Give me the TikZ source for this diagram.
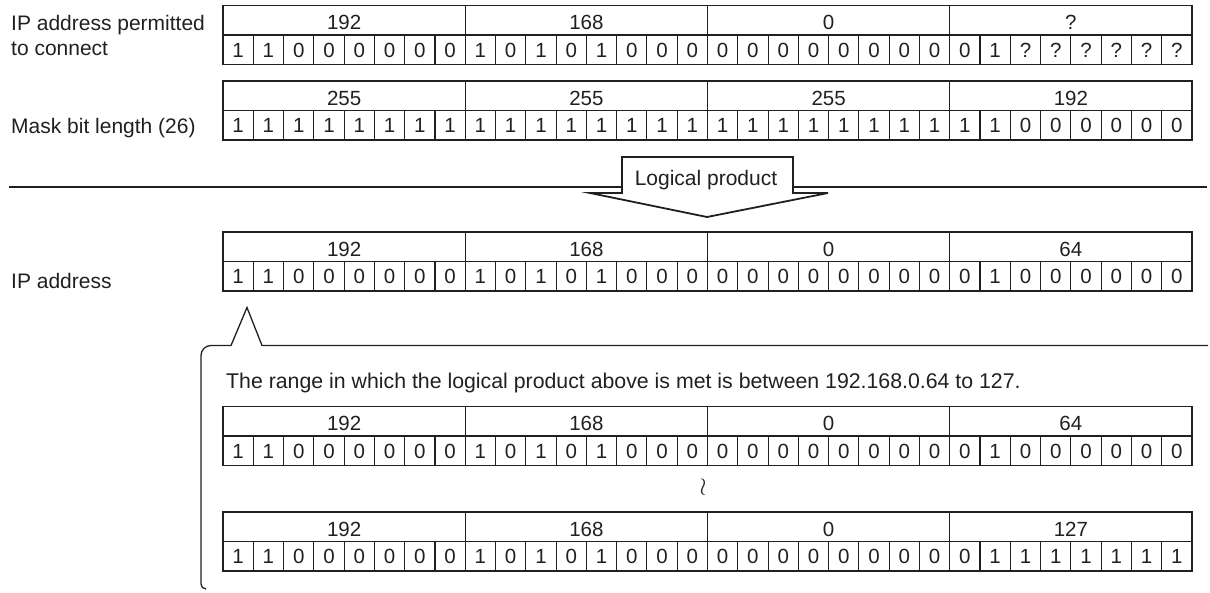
\documentclass[tikz,border=0pt]{standalone}
\usepackage{fontspec}
\setmainfont{Liberation Sans}
\definecolor{ink}{RGB}{35,31,32}
\tikzset{
  cell/.style={draw=ink, line width=1.1pt, minimum width=30.28125pt, minimum height=29.5pt,
    inner sep=0pt, outer sep=0pt, font=\fontsize{20.5}{20.5}\selectfont, text=ink,
    text height=14.7pt, text depth=0pt},
  octet/.style={cell, minimum width=242.25pt, text height=18.5pt},
  lbl/.style={anchor=base west, inner sep=0pt, font=\fontsize{21}{24.3}\selectfont, text=ink, align=left},
  rule/.style={draw=ink, line width=2.2pt},
  bigarrow/.style={draw=ink, fill=white, line width=1.8pt, line join=miter},
  callout/.style={draw=ink, line width=1.3pt, line join=miter},
}
\newcommand{\iptable}[4]{%
  \foreach \o [count=\i from 0] in {#3} {
    \node[octet, anchor=north west] (#1h\i) at ({223+\i*242.25}, #2) {\o};
  }
  \foreach \b [count=\j from 0] in {#4} {
    \node[cell, anchor=north west] (#1b\j) at ({223+\j*30.28125}, {#2+29.5}) {\b};
  }
}
\begin{document}
\begin{tikzpicture}[x=1pt, y=-1pt]
\useasboundingbox (0,0) rectangle (1210,592);
% labels
\node[lbl] (lab1) at (11,55) {IP address permitted\\to connect};
\node[lbl] (lab2) at (11,133) {Mask bit length (26)};
\node[lbl] (lab3) at (11,288) {IP address};
% tables
\iptable{ta}{5.5}{192,168,0,?}{1,1,0,0,0,0,0,0,1,0,1,0,1,0,0,0,0,0,0,0,0,0,0,0,0,1,?,?,?,?,?,?}
\iptable{tb}{81}{255,255,255,192}{1,1,1,1,1,1,1,1,1,1,1,1,1,1,1,1,1,1,1,1,1,1,1,1,1,1,0,0,0,0,0,0}
\iptable{tc}{232}{192,168,0,64}{1,1,0,0,0,0,0,0,1,0,1,0,1,0,0,0,0,0,0,0,0,0,0,0,0,1,0,0,0,0,0,0}
\iptable{td}{406.5}{192,168,0,64}{1,1,0,0,0,0,0,0,1,0,1,0,1,0,0,0,0,0,0,0,0,0,0,0,0,1,0,0,0,0,0,0}
\iptable{te}{512}{192,168,0,127}{1,1,0,0,0,0,0,0,1,0,1,0,1,0,0,0,0,0,0,0,0,0,0,0,0,1,1,1,1,1,1,1}
% rule and logical product arrow
\coordinate (ruleL) at (9,187);
\coordinate (ruleR) at (1207,187);
\draw[rule] (ruleL) -- (ruleR);
\draw[bigarrow] (590,193) -- (622,193) -- (622,157) -- (793,157) -- (793,193) -- (828,193) -- (707,217) -- cycle;
\node[anchor=base, inner sep=0pt, font=\fontsize{21}{24}\selectfont, text=ink] (lp) at (706,185) {Logical product};
% callout
\coordinate (tip) at (247,307.5);
\draw[callout] (1208,345.5) -- (262,345.5) -- (tip) -- (231,345.5) -- (211,345.5)
  arc[start angle=270, end angle=180, radius=10] -- (201,584)
  arc[start angle=180, end angle=90, radius=5];
\node[lbl, font=\fontsize{21.3}{24}\selectfont] (range) at (226,388.3) {The range in which the logical product above is met is between 192.168.0.64 to 127.};
\node[inner sep=0pt, font=\fontsize{30}{30}\selectfont, text=ink] (wave) at (703,487) {$\wr$};
\end{tikzpicture}
\end{document}
